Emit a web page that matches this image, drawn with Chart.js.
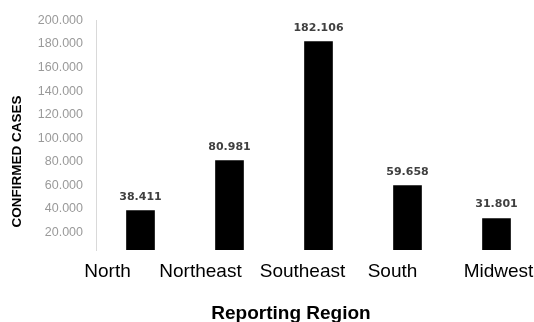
<!DOCTYPE html>
<html>
<head>
<meta charset="utf-8">
<script src="https://cdn.jsdelivr.net/npm/chart.js@4/dist/chart.umd.min.js"></script>
<style>
  html, body { margin: 0; padding: 0; background: #fff; overflow: hidden; }
  #wrap { width: 534px; height: 322px; overflow: hidden; position: relative; }
  #box { width: 541px; height: 322px; position: absolute; left: 0; top: 0; }
</style>
</head>
<body>
<div id="wrap"><div id="box"><canvas id="c"></canvas></div></div>
<script>
// Confirmed cases by reporting region
const regions = ['North', 'Northeast', 'Southeast', 'South', 'Midwest'];
const confirmedCases = [38411, 80981, 182106, 59658, 31801];
const yTickValues = [20000, 40000, 60000, 80000, 100000, 120000, 140000, 160000, 180000, 200000];
const xAxisTitle = 'Reporting Region';
const yAxisTitle = 'CONFIRMED CASES';

// horizontal shift of each category label relative to its bar
const labelShift = [-33, -29, -16, -15, 2];

const fmt = v => String(v).replace(/\B(?=(\d{3})+(?!\d))/g, '.');

const annotate = {
  id: 'annotate',
  afterDatasetsDraw(chart) {
    const ctx = chart.ctx;
    const area = chart.chartArea;
    const meta = chart.getDatasetMeta(0);
    ctx.save();
    // value labels above bars
    ctx.font = 'bold 11px "DejaVu Sans"';
    ctx.fillStyle = '#404040';
    ctx.textAlign = 'center';
    ctx.textBaseline = 'alphabetic';
    meta.data.forEach((bar, i) => {
      ctx.fillText(fmt(confirmedCases[i]), bar.x, bar.y - 11);
    });
    // category labels
    ctx.font = '19px "Liberation Sans"';
    ctx.fillStyle = '#000';
    meta.data.forEach((bar, i) => {
      ctx.fillText(regions[i], bar.x + labelShift[i], area.bottom + 27);
    });
    // x axis title
    ctx.font = 'bold 19px "Liberation Sans"';
    ctx.fillText(xAxisTitle, 291, area.bottom + 69);
    // y axis title
    ctx.font = 'bold 13.5px "Liberation Sans"';
    ctx.translate(21, 161.5);
    ctx.rotate(-Math.PI / 2);
    ctx.fillText(yAxisTitle, 0, 0);
    ctx.restore();
  }
};

new Chart(document.getElementById('c'), {
  type: 'bar',
  data: {
    labels: regions,
    datasets: [{
      data: confirmedCases,
      backgroundColor: '#000',
      borderWidth: 0,
      barThickness: 28
    }]
  },
  options: {
    responsive: true,
    maintainAspectRatio: false,
    animation: false,
    layout: { padding: { top: 16, left: 0, right: 0, bottom: 0 } },
    plugins: { legend: { display: false }, tooltip: { enabled: false } },
    scales: {
      x: {
        grid: { display: false, drawTicks: false },
        border: { display: false },
        ticks: { display: false },
        afterFit(scale) { scale.height = 72; }
      },
      y: {
        min: 5000,
        max: 200000,
        grid: { display: false, drawTicks: false },
        border: { display: true, color: '#d9d9d9', width: 1 },
        ticks: {
          padding: 13,
          color: '#9a9a9a',
          font: { family: '"Liberation Sans"', size: 12.5 },
          callback: v => fmt(v)
        },
        afterBuildTicks(scale) { scale.ticks = yTickValues.map(v => ({ value: v })); },
        afterFit(scale) { scale.width = 96; }
      }
    }
  },
  plugins: [annotate]
});
</script>
</body>
</html>
